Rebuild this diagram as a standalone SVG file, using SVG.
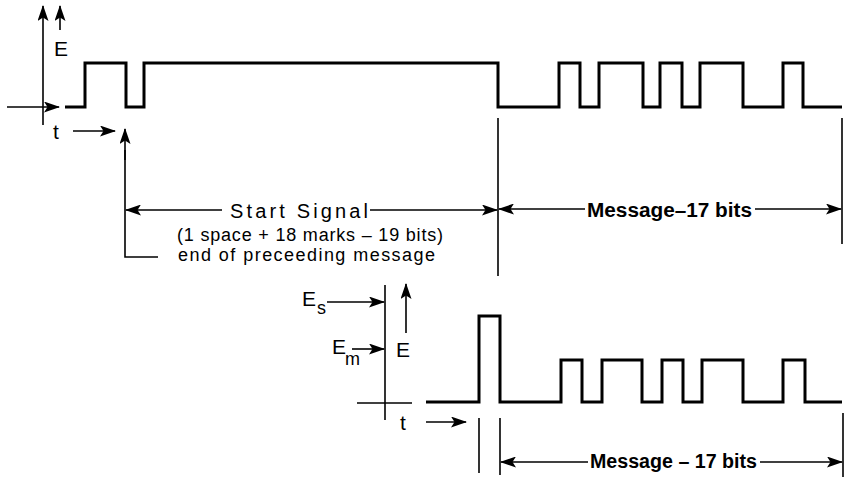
<svg xmlns="http://www.w3.org/2000/svg" width="852" height="479" viewBox="0 0 852 479">
<style>
.bg{fill:#fff}
.wave{fill:none;stroke:#000;stroke-width:3;stroke-linejoin:miter}
.ln{fill:none;stroke:#000;stroke-width:1.6}
.ar{fill:none;stroke:#000;stroke-width:1.6;marker-end:url(#ah)}
text{font-family:"Liberation Sans",Arial,sans-serif;fill:#000}
.lbl{font-size:20px}
.ax{font-size:21px}
.sm{font-size:18px}
.msg{font-size:20px;font-weight:bold}
</style>
<defs>
<marker id="ah" markerUnits="userSpaceOnUse" markerWidth="16" markerHeight="11" refX="15" refY="5.5" orient="auto">
<path d="M0,0 L16,5.5 L0,11 L3.5,5.5 Z" fill="#000"/>
</marker>
</defs>
<rect class="bg" width="852" height="479"/>

<g id="top-axes">
<line class="ar" x1="43" y1="125" x2="43" y2="6"/>
<line class="ar" x1="60" y1="30" x2="60" y2="6"/>
<text class="ax" x="54" y="56">E</text>
<line class="ar" x1="7" y1="107" x2="59" y2="107"/>
<text class="ax" x="53" y="139">t</text>
<line class="ar" x1="73" y1="131" x2="115" y2="131"/>
</g>

<g id="top-waveform">
<path class="wave" d="M65,107 H85 V63 H126 V107 H144 V63 H498 V107 H559 V63 H580 V107 H599 V63 H643 V107 H660 V63 H682 V107 H700 V63 H743 V107 H783 V63 H803 V107 H842"/>
</g>

<g id="connectors">
<line class="ar" x1="125" y1="160" x2="125" y2="129"/>
<polyline class="ln" points="125,150 125,257 158,257"/>
<line class="ln" x1="498" y1="118" x2="498" y2="276"/>
<line class="ln" x1="842" y1="118" x2="842" y2="244"/>
<line class="ar" x1="222" y1="210" x2="126" y2="210"/>
<line class="ar" x1="370" y1="210" x2="497" y2="210"/>
<line class="ar" x1="585" y1="209" x2="499" y2="209"/>
<line class="ar" x1="755" y1="209" x2="841" y2="209"/>
<line class="ln" x1="479" y1="418" x2="479" y2="473"/>
<line class="ln" x1="500" y1="418" x2="500" y2="475"/>
<line class="ln" x1="843" y1="413" x2="843" y2="477"/>
<line class="ar" x1="588" y1="462" x2="501" y2="462"/>
<line class="ar" x1="760" y1="462" x2="842" y2="462"/>
</g>

<g id="start-signal-label">
<text class="lbl" x="230" y="218" textLength="138" lengthAdjust="spacing">Start Signal</text>
<text class="sm" x="177" y="241" textLength="266" lengthAdjust="spacing">(1 space + 18 marks – 19 bits)</text>
<text class="sm" x="178" y="261" textLength="257" lengthAdjust="spacing">end of preceeding message</text>
</g>

<g id="message-label-top">
<text class="msg" x="587" y="217" textLength="165" lengthAdjust="spacingAndGlyphs">Message–17 bits</text>
</g>

<g id="bottom-axes">
<line class="ln" x1="385" y1="285" x2="385" y2="420"/>
<line class="ln" x1="357" y1="403" x2="412" y2="403"/>
<line class="ar" x1="327" y1="302" x2="384" y2="302"/>
<line class="ar" x1="352" y1="349" x2="384" y2="349"/>
<text class="ax" x="302" y="306">E</text>
<text class="sm" x="317" y="314">s</text>
<text class="ax" x="332" y="354">E</text>
<text class="sm" x="345" y="365">m</text>
<line class="ar" x1="406" y1="333" x2="406" y2="284"/>
<text class="ax" x="396" y="357">E</text>
<text class="ax" x="400" y="430">t</text>
<line class="ar" x1="426" y1="422" x2="466" y2="422"/>
</g>

<g id="bottom-waveform">
<path class="wave" d="M426,402 H479 V316 H500 V402 H561 V360 H582 V402 H602 V360 H642 V402 H662 V360 H683 V402 H702 V360 H743 V402 H783 V360 H805 V402 H842"/>
</g>

<g id="message-label-bottom">
<text class="msg" x="590" y="468" textLength="167" lengthAdjust="spacingAndGlyphs">Message – 17 bits</text>
</g>
</svg>
